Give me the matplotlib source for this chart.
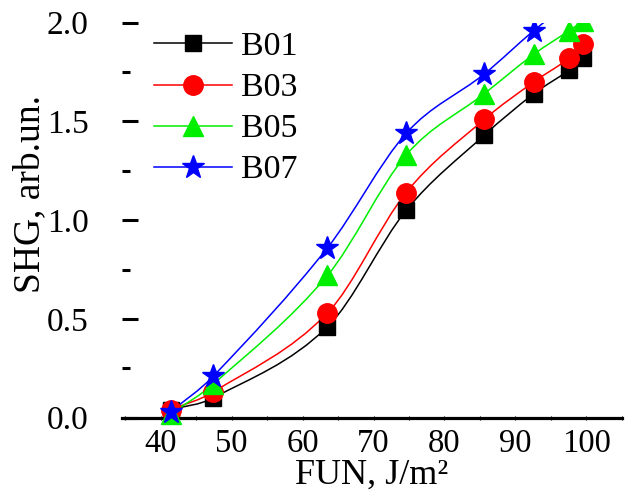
import numpy as np
import matplotlib
matplotlib.use('Agg')
import matplotlib.pyplot as plt
from matplotlib.path import Path
from matplotlib.patches import PathPatch
from matplotlib.ticker import MultipleLocator, FormatStrFormatter

plt.rcParams['font.family'] = ['Liberation Serif', 'DejaVu Serif']

# fluence, J/m^2
fun = [41.4, 47.4, 63.5, 74.6, 85.6, 92.6, 97.6, 99.6]

b01 = [0.04, 0.10, 0.46, 1.05, 1.43, 1.64, 1.76, 1.82]
b03 = [0.04, 0.13, 0.53, 1.14, 1.51, 1.70, 1.82, 1.89]
b05 = [0.02, 0.17, 0.72, 1.33, 1.64, 1.84, 1.96, 2.01]
b07 = [0.03, 0.21, 0.86, 1.44, 1.74, 1.96, 2.10, 2.16]

labels = ['B01', 'B03', 'B05', 'B07']
colors = ['black', '#ff0000', '#00ee00', '#0000ff']
markers = ['s', 'o', '^', '*']
msizes = [11, 14, 14, 17]


def smooth_path(xs, ys):
    # cubic hermite in x with finite-difference slopes, as bezier segments
    xs = np.asarray(xs, float)
    ys = np.asarray(ys, float)
    n = len(xs)
    m = np.empty(n)
    m[0] = (ys[1] - ys[0]) / (xs[1] - xs[0])
    m[-1] = (ys[-1] - ys[-2]) / (xs[-1] - xs[-2])
    for i in range(1, n - 1):
        m[i] = (ys[i + 1] - ys[i - 1]) / (xs[i + 1] - xs[i - 1])
    verts = [(xs[0], ys[0])]
    codes = [Path.MOVETO]
    for i in range(n - 1):
        d = (xs[i + 1] - xs[i]) / 3
        verts += [(xs[i] + d, ys[i] + d * m[i]),
                  (xs[i + 1] - d, ys[i + 1] - d * m[i + 1]),
                  (xs[i + 1], ys[i + 1])]
        codes += [Path.CURVE4] * 3
    return Path(verts, codes)


fig = plt.figure(figsize=(6.28, 5.01), dpi=100)
ax = fig.add_axes([0.194, 0.1467, 0.796, 0.808])

series = [b01, b03, b05, b07]
for ys, lab, c, mk, ms in zip(series, labels, colors, markers, msizes):
    ax.add_patch(PathPatch(smooth_path(fun, ys), facecolor='none',
                           edgecolor=c, lw=1.1, zorder=2))
    ax.plot(fun, ys, ls='none', marker=mk, ms=ms, color=c, zorder=3)
    # legend proxy
    ax.plot([], [], ls='-', lw=1.1, marker=mk, ms=ms, color=c, label=lab)

ax.set_xlim(34.5, 105.0)
ax.set_ylim(-0.05, 2.0)

for s in ['top', 'right', 'left']:
    ax.spines[s].set_visible(False)
ax.spines['bottom'].set_position(('data', 0))
ax.spines['bottom'].set_linewidth(2.3)

ax.xaxis.set_major_locator(MultipleLocator(10))
ax.xaxis.set_minor_locator(MultipleLocator(5))
ax.yaxis.set_major_locator(MultipleLocator(0.5))
ax.yaxis.set_minor_locator(MultipleLocator(0.25))
ax.yaxis.set_major_formatter(FormatStrFormatter('%.1f'))

ax.tick_params(axis='x', which='both', direction='inout', length=3, width=0.8,
               labelsize=23.5, pad=6)
ax.tick_params(axis='y', which='major', direction='in', length=11.5, width=2.2,
               labelsize=24, pad=24)
ax.tick_params(axis='y', which='minor', direction='in', length=5.8, width=2.2)

ax.set_xlabel('FUN, J/m\u00b2', fontsize=26, labelpad=0)
ax.set_ylabel('SHG, arb.un.', fontsize=27)
ax.yaxis.set_label_coords(-0.150, 0.577)

ax.legend(loc='upper left', bbox_to_anchor=(0.245, 0.937),
          bbox_transform=fig.transFigure, frameon=False, fontsize=24.5,
          handlelength=2.3, handletextpad=0.25, labelspacing=0.3,
          borderpad=0, borderaxespad=0)

fig.savefig('out.png', dpi=100)
